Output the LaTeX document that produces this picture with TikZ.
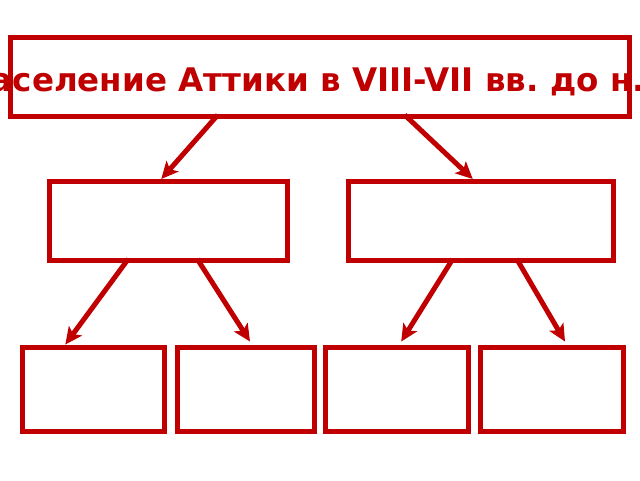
\documentclass[tikz,border=0pt]{standalone}
\usepackage{fontspec}
\setmainfont{DejaVu Sans}
\usetikzlibrary{arrows.meta}
\definecolor{dred}{RGB}{192,0,0}
\begin{document}
\frenchspacing
\begin{tikzpicture}[x=1pt,y=-1pt,
  box/.style={draw=dred,line width=5pt,inner sep=0pt},
  arr/.style={draw=dred,line width=5pt,-{Stealth[length=17pt,width=16pt,inset=4pt]}},
  titletext/.style={text=dred,font=\bfseries\fontsize{32.5}{38}\selectfont,inner sep=0pt}]
\useasboundingbox[fill=white] (0,0) rectangle (640,480);
\node[box,minimum width=618.5pt,minimum height=79pt] (title) at (319.75,77) {};
\node[titletext,anchor=base] (tt) at (320,91) {Население Аттики в VIII-VII вв. до н.э.};
\node[box,minimum width=238.5pt,minimum height=79pt] (m1) at (168.25,221) {};
\node[box,minimum width=265.5pt,minimum height=79pt] (m2) at (480.75,221) {};
\node[box,minimum width=142.6pt,minimum height=84.5pt] (b1) at (93.3,389.3) {};
\node[box,minimum width=137pt,minimum height=84.5pt] (b2) at (245.5,389.3) {};
\node[box,minimum width=142.7pt,minimum height=84.5pt] (b3) at (397.2,389.3) {};
\node[box,minimum width=143pt,minimum height=84.5pt] (b4) at (552,389.3) {};
\draw[arr] ([xshift=-102pt,yshift=4pt]title.south) -- ([xshift=-7pt]m1.north);
\draw[arr] ([xshift=85pt,yshift=4pt]title.south) -- ([xshift=-8pt]m2.north);
\draw[arr] ([xshift=-40pt,yshift=4pt]m1.south) -- ([xshift=-28pt]b1.north);
\draw[arr] ([xshift=29pt,yshift=4pt]m1.south) -- ([xshift=4.5pt,yshift=3pt]b2.north);
\draw[arr] ([xshift=-28pt,yshift=4pt]m2.south) -- ([xshift=4pt,yshift=3pt]b3.north);
\draw[arr] ([xshift=36pt,yshift=4pt]m2.south) -- ([xshift=13pt,yshift=3pt]b4.north);
\end{tikzpicture}
\end{document}
